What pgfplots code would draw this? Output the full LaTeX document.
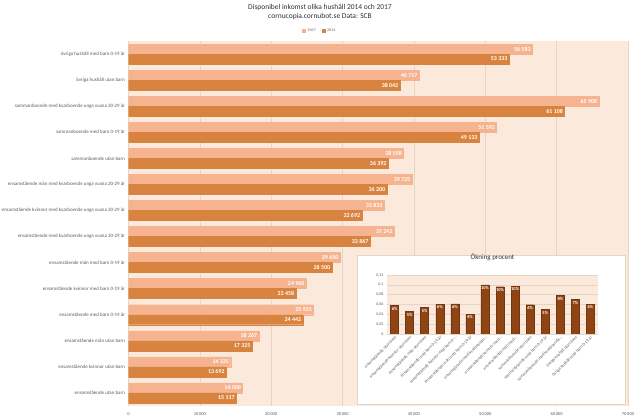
\documentclass[border=0pt]{standalone}
\usepackage{fontspec}
\setmainfont{Carlito}
\usepackage{pgfplots}
\pgfplotsset{compat=1.18}
\definecolor{bgc}{HTML}{FBEADB}
\definecolor{cA}{HTML}{F5B48F}
\definecolor{cB}{HTML}{D8833F}
\definecolor{cC}{HTML}{8F4414}
\definecolor{gridc}{HTML}{E3D5C8}
\definecolor{tickc}{HTML}{595959}
\definecolor{titc}{HTML}{303030}
\begin{document}
\begin{tikzpicture}
\useasboundingbox (0,0) rectangle (640bp,419bp);
\node[font=\fontsize{7.5}{8}\selectfont, text=titc] at (320bp,412bp) {Disponibel inkomst olika hushåll 2014 och 2017};
\node[font=\fontsize{7.5}{8}\selectfont, text=titc] at (320bp,402bp) {cornucopia.cornubot.se Data: SCB};
\begin{axis}[
  at={(128.5bp,13bp)}, anchor=south west,
  scale only axis, width=499.5bp, height=365bp,
  xbar, bar width=10bp,
  xmin=0, xmax=70000, ymin=-0.5, ymax=13.5,
  xtick={0,10000,20000,30000,40000,50000,60000,70000},
  scaled x ticks=false,
  /pgf/number format/.cd, 1000 sep={\,}, assume math mode=true, /pgfplots/.cd,
  xticklabel style={font=\fontsize{4.5}{5}\selectfont, text=tickc, yshift=-3bp},
  ytick={0,1,2,3,4,5,6,7,8,9,10,11,12,13},
  yticklabels={{ensamstående utan barn}, {ensamstående kvinnor utan barn}, {ensamstående män utan barn}, {ensamstående med barn 0-19 år}, {ensamstående kvinnor med barn 0-19 år}, {ensamstående män med barn 0-19 år}, {ensamstående med kvarboende unga vuxna 20-29 år}, {ensamstående kvinnor med kvarboende unga vuxna 20-29 år}, {ensamstående män med kvarboende unga vuxna 20-29 år}, {sammanboende utan barn}, {sammanboende med barn 0-19 år}, {sammanboende med kvarboende unga vuxna 20-29 år}, {övriga hushåll utan barn}, {övriga hushåll med barn 0-19 år}},
  yticklabel style={font=\fontsize{5}{6}\selectfont, text=tickc},
  major tick length=0pt,
  axis line style={draw=none},
  xmajorgrids, grid style={gridc, line width=0.7bp},
  axis background/.style={fill=bgc},
  nodes near coords,
  every node near coord/.append style={anchor=east, font=\fontsize{6}{7}\selectfont\bfseries, text=white, inner sep=1.5bp, /pgf/number format/1000 sep={\ }},
  legend style={at={(0.383,1.027)}, anchor=center, draw=none, fill=none, legend columns=2, font=\fontsize{4}{5}\selectfont, text=tickc, /tikz/every even column/.append style={column sep=4bp}},
  legend image code/.code={\fill[#1] (0bp,-1.5bp) rectangle (3bp,1.5bp);},
]
\addplot[fill=cA, draw=cA, bar shift=5bp] coordinates {
(16000,0) (14325,1) (18267,2) (25925,3) (24900,4) (29650,5) (37242,6) (35833,7) (39725,8) (38558,9) (51592,10) (65908,11) (40717,12) (56583,13)};
\addplot[fill=cB, draw=cB, bar shift=-5bp] coordinates {
(15117,0) (13692,1) (17325,2) (24442,3) (23458,4) (28500,5) (33867,6) (32692,7) (36200,8) (36392,9) (49133,10) (61108,11) (38042,12) (53333,13)};
\legend{2017,2014}
\end{axis}
\fill[white, draw=gridc, line width=0.5bp] (357bp,15bp) rectangle (625bp,164bp);
\begin{axis}[
  at={(387bp,85bp)}, anchor=south west,
  scale only axis, width=211bp, height=59bp,
  ybar, bar width=8bp,
  xmin=-0.5, xmax=13.5, ymin=0, ymax=0.12,
  ytick={0,0.02,0.04,0.06,0.08,0.1,0.12},
  yticklabels={0,{0,02},{0,04},{0,06},{0,08},{0,1},{0,12}},
  yticklabel style={font=\fontsize{4}{5}\selectfont, text=tickc},
  xtick={0,1,2,3,4,5,6,7,8,9,10,11,12,13},
  xticklabels={{ensamstående utan barn}, {ensamstående kvinnor utan barn}, {ensamstående män utan barn}, {ensamstående med barn 0-19 år}, {ensamstående kvinnor med barn 0-…}, {ensamstående män med barn 0-19 år}, {ensamstående med kvarboende…}, {ensamstående kvinnor med…}, {ensamstående män med…}, {sammanboende utan barn}, {sammanboende med barn 0-19 år}, {sammanboende med kvarboende…}, {övriga hushåll utan barn}, {övriga hushåll med barn 0-19 år}},
  xticklabel style={font=\fontsize{4.3}{5}\selectfont, text=tickc, rotate=45, anchor=north east, inner sep=1bp},
  major tick length=0pt,
  axis line style={draw=none},
  ymajorgrids, grid style={gridc, line width=0.5bp},
  axis background/.style={fill=bgc},
  title={Ökning procent},
  title style={font=\fontsize{7}{8}\selectfont, text=titc, at={(0.5,1)}, anchor=south, yshift=5bp},
  point meta=explicit symbolic,
  nodes near coords,
  every node near coord/.append style={anchor=north, font=\fontsize{4.5}{5}\selectfont\bfseries, text=white, inner sep=1.5bp},
]
\addplot[fill=cC, draw=cC!80!black] coordinates {
(0,0.0584) [6\%] (1,0.0462) [5\%] (2,0.0544) [5\%] (3,0.0607) [6\%] (4,0.0615) [6\%] (5,0.0404) [4\%] (6,0.0997) [10\%] (7,0.0961) [10\%] (8,0.0974) [10\%] (9,0.0595) [6\%] (10,0.0500) [5\%] (11,0.0785) [8\%] (12,0.0703) [7\%] (13,0.0609) [6\%]};
\end{axis}
\end{tikzpicture}
\end{document}
